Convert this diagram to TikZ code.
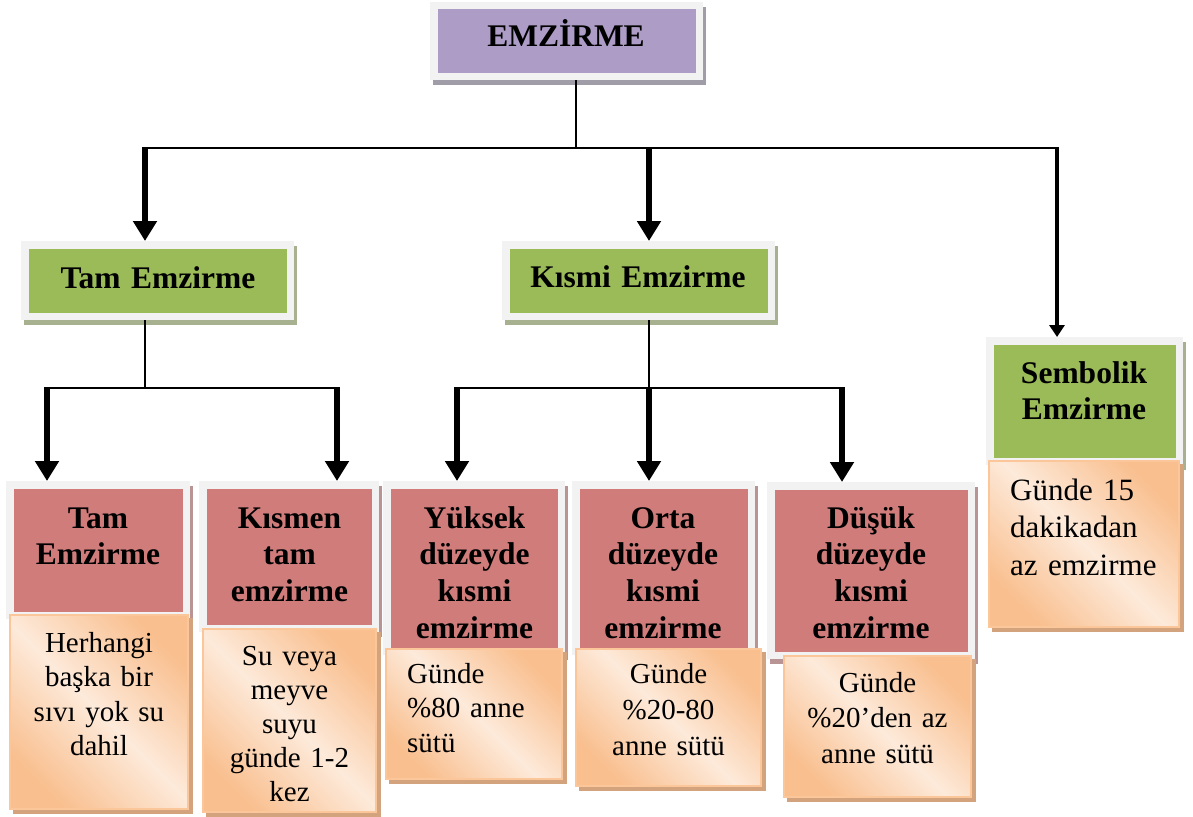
\documentclass[tikz,border=0pt]{standalone}
\usepackage{fontspec}
\setmainfont{Liberation Serif}
\usetikzlibrary{arrows.meta}
\definecolor{framegrey}{HTML}{F2F2F2}
\definecolor{purplefill}{HTML}{AD9CC6}
\definecolor{purpleshadow}{HTML}{A09CA8}
\definecolor{greenfill}{HTML}{9BBB59}
\definecolor{greenshadow}{HTML}{A8B18F}
\definecolor{redfill}{HTML}{CF7C7B}
\definecolor{redshadow}{HTML}{B99494}
\definecolor{orangedark}{HTML}{F9BF8F}
\definecolor{orangelight}{HTML}{FDEADA}
\definecolor{orangeedge}{HTML}{FAC69A}
\definecolor{orangeshadow}{HTML}{D2A37D}
\begin{document}
\begin{tikzpicture}[x=1pt,y=-1pt,
  topbox/.style 2 args={rectangle, inner sep=0pt, fill=#1, draw=framegrey, line width=7.5pt,
    preaction={fill=#2, draw=#2, line width=7.5pt, transform canvas={shift={(3pt,-5pt)}}}},
  obox/.style={rectangle, inner sep=0pt, draw=orangeedge, line width=2pt,
    top color=orangedark, bottom color=orangedark, middle color=orangelight, shading angle=-45,
    preaction={fill=orangeshadow, draw=orangeshadow, line width=2pt, transform canvas={shift={(4pt,-4pt)}}}},
  thinline/.style={line width=2pt, draw=black},
  thickarr/.style={line width=5.5pt, draw=black, -{Triangle[width=23pt,length=20pt]}},
  medarr/.style={line width=3.5pt, draw=black, -{Triangle[width=15pt,length=12pt]}},
  bt/.style={font=\fontsize{31.5}{36.7}\selectfont\bfseries, inner sep=0pt, align=center, anchor=base, text width=#1},
  rt/.style={font=\fontsize{29}{34.5}\selectfont, inner sep=0pt, align=center, anchor=base, text width=#1},
  rtl/.style={font=\fontsize{29}{34.5}\selectfont, inner sep=0pt, align=left, anchor=base west, text width=#1},
]
\useasboundingbox (0,0) rectangle (1193,816);

% coordinates of the connector network
\coordinate (e0) at (576,148);
\coordinate (b1) at (145,148);
\coordinate (b2) at (649,148);
\coordinate (b3) at (1057,148);
\coordinate (c0) at (145,388);
\coordinate (c1) at (47,388);
\coordinate (c2) at (337,388);
\coordinate (d0) at (649,388);
\coordinate (d1) at (457,388);
\coordinate (d3) at (842,388);

% boxes (level 1 and 2)
\node[topbox={purplefill}{purpleshadow}, minimum width=265.5pt, minimum height=70.5pt] (emz) at (566.5,41) {};
\node[topbox={greenfill}{greenshadow}, minimum width=265.5pt, minimum height=71.5pt] (tam) at (157.5,280.5) {};
\node[topbox={greenfill}{greenshadow}, minimum width=265.5pt, minimum height=71.5pt] (kismi) at (638.5,280.5) {};
\node[topbox={greenfill}{greenshadow}, minimum width=189.5pt, minimum height=120.5pt] (semb) at (1084.5,401) {};

% red boxes
\node[topbox={redfill}{redshadow}, minimum width=176.5pt, minimum height=130.5pt] (r1) at (98,550) {};
\node[topbox={redfill}{redshadow}, minimum width=172.5pt, minimum height=143.5pt] (r2) at (289,556.5) {};
\node[topbox={redfill}{redshadow}, minimum width=174.5pt, minimum height=166.5pt] (r3) at (474,568) {};
\node[topbox={redfill}{redshadow}, minimum width=175.5pt, minimum height=166.5pt] (r4) at (663.5,568) {};
\node[topbox={redfill}{redshadow}, minimum width=200.5pt, minimum height=169.5pt] (r5) at (871,570.5) {};

% connectors
\draw[thinline] (e0 |- emz.south) -- (e0);
\draw[thinline] (b1) -- (b3);
\draw[thickarr] ([yshift=1pt]b1) -- (b1 |- tam.north);
\draw[thickarr] ([yshift=1pt]b2) -- (b2 |- kismi.north);
\draw[medarr] ([yshift=1pt]b3) -- (b3 |- semb.north);

\draw[thinline] (c0 |- tam.south) -- (c0);
\draw[thinline] (c1) -- (c2);
\draw[thickarr] ([yshift=1pt]c1) -- (c1 |- r1.north);
\draw[thickarr] ([yshift=1pt]c2) -- (c2 |- r2.north);

\draw[thinline] (d0 |- kismi.south) -- (d0);
\draw[thinline] (d1) -- (d3);
\draw[thickarr] ([yshift=1pt]d1) -- (d1 |- r3.north);
\draw[thickarr] ([yshift=1pt]d0) -- (d0 |- r4.north);
\draw[thickarr] ([yshift=1pt]d3) -- (d3 |- r5.north);

% orange boxes
\node[obox, minimum width=178pt, minimum height=194pt] (o1) at (99,712) {};
\node[obox, minimum width=173pt, minimum height=183pt] (o2) at (289.5,720.5) {};
\node[obox, minimum width=176pt, minimum height=130pt] (o3) at (474,714) {};
\node[obox, minimum width=185pt, minimum height=137pt] (o4) at (668.5,717.5) {};
\node[obox, minimum width=187pt, minimum height=141pt] (o5) at (877.5,726.5) {};
\node[obox, minimum width=190pt, minimum height=166pt] (o6) at (1084,544) {};

% texts
\node[bt=258pt] (temz) at (566,47) {EMZİRME};
\node[bt=258pt] (ttam) at (158,288) {Tam Emzirme};
\node[bt=258pt] (tkismi) at (638,287) {Kısmi Emzirme};
\node[bt=182pt] (tsemb) at (1084,383) {Sembolik\\Emzirme};

\node[bt=168pt] (tr1) at (98,528) {Tam\\Emzirme};
\node[bt=165pt] (tr2) at (289.5,528) {Kısmen\\tam\\emzirme};
\node[bt=167pt] (tr3) at (474.5,528) {Yüksek\\düzeyde\\kısmi\\emzirme};
\node[bt=168pt] (tr4) at (663,528) {Orta\\düzeyde\\kısmi\\emzirme};
\node[bt=192pt] (tr5) at (871,528) {Düşük\\düzeyde\\kısmi\\emzirme};

\node[rt=170pt] (to1) at (99,652) {Herhangi\\başka bir\\sıvı yok su\\dahil};
\node[rt=165pt, font=\fontsize{29}{34}\selectfont] (to2) at (289.5,665) {Su veya\\meyve\\suyu\\günde 1-2\\kez};
\node[rtl=150pt] (to3) at (407,683) {Günde\\\%80 anne\\sütü};
\node[rt=175pt, font=\fontsize{29}{36}\selectfont] (to4) at (668.5,683) {Günde\\\%20-80\\anne sütü};
\node[rt=178pt, font=\fontsize{29}{35.5}\selectfont] (to5) at (877.5,692) {Günde\\\%20’den az\\anne sütü};
\node[rtl=165pt, font=\fontsize{31}{37.5}\selectfont] (to6) at (1010,500) {Günde 15\\dakikadan\\az emzirme};
\end{tikzpicture}
\end{document}
